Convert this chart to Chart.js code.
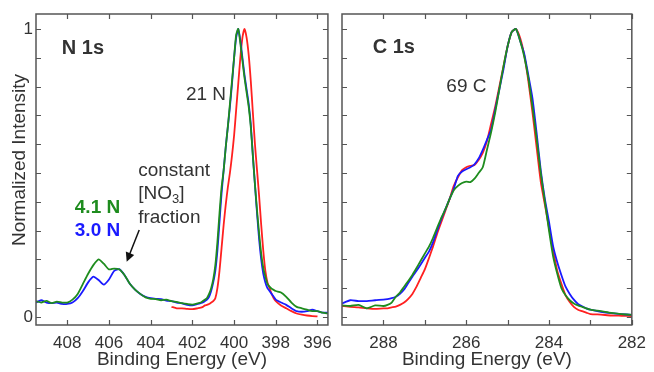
<!DOCTYPE html>
<html>
<head>
<meta charset="utf-8">
<script src="https://cdn.jsdelivr.net/npm/chart.js@4.4.1/dist/chart.umd.min.js"></script>
<style>
  html, body { margin: 0; padding: 0; background: #fff; }
  #wrap { position: relative; width: 654px; height: 372px; overflow: hidden; }
  canvas { position: absolute; top: 0; }
  #nChart { left: 0; }
  #cChart { left: 330px; }
</style>
</head>
<body>
<div id="wrap">
  <canvas id="nChart" width="340" height="372"></canvas>
  <canvas id="cChart" width="324" height="372"></canvas>
</div>
<script>
// ---- N 1s data (binding energy, eV) ----
const nEnergy = [
  409.5, 409.25, 409.0, 408.75, 408.5, 408.25, 408.0, 407.75, 407.5, 407.25, 407.0, 406.75, 406.5, 406.25, 406.0, 405.75,
  405.5, 405.25, 405.0, 404.75, 404.5, 404.25, 404.0, 403.75, 403.5, 403.25, 403.0, 402.75, 402.5, 402.25, 402.0, 401.75,
  401.6, 401.5, 401.4, 401.3, 401.2, 401.1, 401.0, 400.9, 400.8, 400.7, 400.6, 400.5, 400.4, 400.3, 400.2, 400.1, 400.0,
  399.9, 399.8, 399.7, 399.6, 399.5, 399.4, 399.3, 399.2, 399.1, 399.0, 398.9, 398.8, 398.7, 398.6, 398.5, 398.4, 398.3,
  398.2, 398.1, 398.0, 397.75, 397.5, 397.25, 397.0, 396.75, 396.5, 396.25, 396.0, 395.75, 395.5
];
const nGreen = [
  0.055, 0.05, 0.056, 0.048, 0.053, 0.05, 0.05, 0.06, 0.08, 0.115, 0.15, 0.18, 0.2, 0.185, 0.165, 0.168,
  0.165, 0.145, 0.115, 0.095, 0.08, 0.068, 0.063, 0.062, 0.058, 0.06, 0.055, 0.052, 0.048, 0.045, 0.043, 0.047,
  0.05, 0.055, 0.06, 0.066, 0.08, 0.1, 0.13, 0.18, 0.26, 0.36, 0.45, 0.51, 0.59, 0.66, 0.74, 0.82, 0.9,
  0.98, 1.0, 0.95, 0.89, 0.83, 0.78, 0.73, 0.66, 0.56, 0.46, 0.37, 0.29, 0.22, 0.17, 0.14, 0.115, 0.105,
  0.098, 0.094, 0.09, 0.085, 0.07, 0.05, 0.035, 0.03, 0.025, 0.02, 0.02, 0.015, 0.012
];
const nBlue = [
  0.05, 0.058, 0.05, 0.048, 0.05, 0.045, 0.045, 0.05, 0.065, 0.09, 0.12, 0.14, 0.128, 0.112, 0.13, 0.16,
  0.166, 0.145, 0.115, 0.095, 0.08, 0.07, 0.065, 0.063, 0.062, 0.057, 0.055, 0.05, 0.047, 0.042, 0.04, 0.045,
  0.048, 0.05, 0.055, 0.06, 0.07, 0.09, 0.12, 0.16, 0.23, 0.33, 0.43, 0.51, 0.59, 0.66, 0.73, 0.81, 0.9,
  0.97, 1.0, 0.96, 0.9, 0.84, 0.79, 0.74, 0.67, 0.56, 0.46, 0.36, 0.27, 0.2, 0.15, 0.12, 0.1, 0.09,
  0.08, 0.07, 0.06, 0.05, 0.042, 0.03, 0.02, 0.018, 0.02, 0.025, 0.02, 0.015, 0.015
];
const nRed = [
  null, null, null, null, null, null, null, null, null, null, null, null, null, null, null, null,
  null, null, null, null, null, null, null, null, null, null, 0.035, 0.03, 0.03, 0.028, 0.027, 0.03,
  0.032, 0.035, 0.04, 0.042, 0.045, 0.05, 0.055, 0.065, 0.1, 0.16, 0.24, 0.32, 0.39, 0.45, 0.5, 0.56, 0.63,
  0.72, 0.81, 0.9, 0.97, 1.0, 0.97, 0.91, 0.82, 0.71, 0.6, 0.51, 0.42, 0.32, 0.23, 0.16, 0.12, 0.1,
  0.08, 0.065, 0.055, 0.04, 0.03, 0.02, 0.012, 0.008, 0.005, 0.003, 0.002, null, null
];

// ---- C 1s data ----
const cEnergy = [
  289.0, 288.8, 288.6, 288.4, 288.2, 288.0, 287.9, 287.8, 287.7, 287.6, 287.5, 287.4, 287.3, 287.2, 287.1, 287.0,
  286.9, 286.8, 286.7, 286.6, 286.5, 286.4, 286.3, 286.2, 286.1, 286.0, 285.9, 285.8, 285.7, 285.6, 285.5, 285.4,
  285.3, 285.2, 285.1, 285.0, 284.9, 284.8, 284.7, 284.6, 284.5, 284.4, 284.3, 284.2, 284.1, 284.0, 283.9, 283.8,
  283.7, 283.6, 283.5, 283.4, 283.3, 283.2, 283.1, 283.0, 282.75, 282.5, 282.25, 282.0
];
const cGreen = [
  0.04, 0.038, 0.042, 0.03, 0.04, 0.038, 0.042, 0.05, 0.07, 0.085, 0.105, 0.125, 0.146, 0.17, 0.195, 0.22,
  0.244, 0.275, 0.31, 0.345, 0.375, 0.41, 0.44, 0.455, 0.465, 0.47, 0.468, 0.48, 0.5, 0.52, 0.58, 0.64,
  0.71, 0.79, 0.87, 0.94, 0.99, 1.0, 0.96, 0.905, 0.83, 0.73, 0.62, 0.5, 0.4, 0.3, 0.21, 0.15,
  0.1, 0.075, 0.058, 0.047, 0.04, 0.035, 0.03, 0.025, 0.02, 0.014, 0.01, 0.007
];
const cBlue = [
  0.047, 0.058, 0.055, 0.055, 0.058, 0.06, 0.062, 0.065, 0.07, 0.08, 0.095, 0.118, 0.14, 0.16, 0.182, 0.205,
  0.227, 0.26, 0.3, 0.34, 0.375, 0.41, 0.445, 0.49, 0.505, 0.513, 0.52, 0.53, 0.55, 0.58, 0.615, 0.65,
  0.72, 0.79, 0.86, 0.94, 0.99, 1.0, 0.96, 0.915, 0.84, 0.76, 0.64, 0.51, 0.41, 0.33, 0.245, 0.19,
  0.145, 0.105, 0.08, 0.06, 0.045, 0.037, 0.03, 0.025, 0.018, 0.013, 0.01, 0.007
];
const cRed = [
  0.038, 0.035, 0.033, 0.03, 0.028, 0.03, 0.03, 0.033, 0.036, 0.042, 0.05, 0.063, 0.08, 0.105, 0.135, 0.165,
  0.204, 0.245, 0.29, 0.33, 0.37, 0.41, 0.455, 0.485, 0.51, 0.52, 0.525, 0.528, 0.545, 0.57, 0.61, 0.67,
  0.73, 0.8, 0.87, 0.94, 0.99, 1.0, 0.97, 0.91, 0.82, 0.71, 0.59, 0.47, 0.39, 0.31, 0.23, 0.16,
  0.115, 0.075, 0.052, 0.035, 0.025, 0.02, 0.015, 0.01, 0.008, 0.005, 0.004, 0.003
];

// ---- tick labels ----
const nTicks = [408, 406, 404, 402, 400, 398, 396];
const cTicks = [288, 287, 286, 285, 284, 283, 282];
const yTicks = [0, 0.1, 0.2, 0.3, 0.4, 0.5, 0.6, 0.7, 0.8, 0.9, 1];

const GREEN = '#1e8c1e';
const BLUE = '#1a1aff';
const RED = '#ff2020';
const TEXT = '#333';
const FONT = '"Liberation Sans", Arial, sans-serif';

const pts = (xs, ys) => xs.map((x, i) => ({ x: x, y: ys[i] }));

function series(label, xs, ys, color) {
  return {
    label: label,
    data: pts(xs, ys),
    borderColor: color,
    borderWidth: 1.8,
    pointRadius: 0,
    tension: 0.2,
    fill: false,
    spanGaps: false
  };
}

// frame, inner tick marks and text labels
const framePlugin = {
  id: 'frame',
  afterDraw(chart, args, opts) {
    const { ctx, chartArea: a, scales: { x, y } } = chart;
    ctx.save();
    ctx.strokeStyle = '#555';
    ctx.lineWidth = 1.5;
    ctx.strokeRect(a.left, a.top, a.width, a.height);
    ctx.lineWidth = 1.2;
    ctx.beginPath();
    x.ticks.forEach(t => {
      const px = Math.round(x.getPixelForValue(t.value)) + 0.5;
      ctx.moveTo(px, a.bottom); ctx.lineTo(px, a.bottom - 5);
      ctx.moveTo(px, a.top); ctx.lineTo(px, a.top + 5);
    });
    y.ticks.forEach(t => {
      const py = Math.round(y.getPixelForValue(t.value)) + 0.5;
      ctx.moveTo(a.left, py); ctx.lineTo(a.left + 5, py);
      ctx.moveTo(a.right, py); ctx.lineTo(a.right - 5, py);
    });
    ctx.stroke();

    if (opts.yTitle) {
      ctx.save();
      ctx.translate(20, 160);
      ctx.rotate(-Math.PI / 2);
      ctx.font = '19px ' + FONT;
      ctx.fillStyle = TEXT;
      ctx.textAlign = 'center';
      ctx.textBaseline = 'middle';
      ctx.fillText(opts.yTitle, 0, 0);
      ctx.restore();
    }

    (opts.labels || []).forEach(l => {
      const px = x.getPixelForValue(l.e);
      const py = y.getPixelForValue(l.v);
      const size = l.size || 19;
      ctx.fillStyle = l.color || TEXT;
      ctx.textAlign = 'left';
      ctx.textBaseline = 'alphabetic';
      ctx.font = (l.bold ? 'bold ' : '') + size + 'px ' + FONT;
      if (l.sub) {
        let cx = px;
        ctx.fillText(l.text, cx, py);
        cx += ctx.measureText(l.text).width;
        ctx.font = '13px ' + FONT;
        ctx.fillText(l.sub, cx, py + 4);
        cx += ctx.measureText(l.sub).width;
        ctx.font = size + 'px ' + FONT;
        ctx.fillText(l.after, cx, py);
      } else {
        ctx.fillText(l.text, px, py);
      }
    });

    if (opts.arrow) {
      const r = opts.arrow;
      const x1 = x.getPixelForValue(r.from[0]), y1 = y.getPixelForValue(r.from[1]);
      const x2 = x.getPixelForValue(r.to[0]), y2 = y.getPixelForValue(r.to[1]);
      const ang = Math.atan2(y2 - y1, x2 - x1);
      ctx.strokeStyle = '#111';
      ctx.fillStyle = '#111';
      ctx.lineWidth = 1.5;
      ctx.beginPath();
      ctx.moveTo(x1, y1);
      ctx.lineTo(x2 - 6 * Math.cos(ang), y2 - 6 * Math.sin(ang));
      ctx.stroke();
      ctx.beginPath();
      ctx.moveTo(x2, y2);
      ctx.lineTo(x2 - 9 * Math.cos(ang) + 4.5 * Math.sin(ang), y2 - 9 * Math.sin(ang) - 4.5 * Math.cos(ang));
      ctx.lineTo(x2 - 9 * Math.cos(ang) - 4.5 * Math.sin(ang), y2 - 9 * Math.sin(ang) + 4.5 * Math.cos(ang));
      ctx.closePath();
      ctx.fill();
    }
    ctx.restore();
  }
};

function makeOptions(xMin, xMax, xTicks, evenOnly, showY, padding, frameOpts) {
  return {
    responsive: false,
    animation: false,
    devicePixelRatio: 1,
    layout: { padding: padding },
    plugins: {
      legend: { display: false },
      tooltip: { enabled: false },
      frame: frameOpts
    },
    scales: {
      x: {
        type: 'linear',
        reverse: true,
        min: xMin,
        max: xMax,
        afterBuildTicks: s => { s.ticks = xTicks.map(v => ({ value: v })); },
        afterFit: s => { s.height = 47; },
        grid: { display: false, drawTicks: false },
        border: { display: false },
        ticks: {
          autoSkip: false,
          maxRotation: 0,
          padding: 8,
          color: TEXT,
          font: { family: FONT, size: 17 },
          callback: v => (!evenOnly || v % 2 === 0) ? String(v) : ''
        },
        title: {
          display: true,
          text: 'Binding Energy (eV)',
          color: TEXT,
          font: { family: FONT, size: 19 },
          padding: { top: 0, bottom: 1 }
        }
      },
      y: {
        min: -0.028,
        max: 1.052,
        afterBuildTicks: s => { s.ticks = yTicks.map(v => ({ value: v })); },
        afterFit: s => { s.width = showY ? 36 : 0; },
        grid: { display: false, drawTicks: false },
        border: { display: false },
        ticks: {
          display: showY,
          padding: 3,
          color: TEXT,
          font: { family: FONT, size: 17 },
          callback: v => (v === 0 || v === 1) ? String(v) : ''
        }
      }
    }
  };
}

new Chart(document.getElementById('nChart'), {
  type: 'line',
  data: {
    datasets: [
      series('4.1 N', nEnergy, nGreen, GREEN),
      series('3.0 N', nEnergy, nBlue, BLUE),
      series('21 N', nEnergy, nRed, RED)
    ]
  },
  options: makeOptions(395.5, 409.5, nTicks, false, true,
    { left: 0, right: 9, top: 14, bottom: 0 },
    {
      yTitle: 'Normalized Intensity',
      labels: [
        { text: 'N 1s', e: 408.26, v: 0.913, bold: true, size: 20 },
        { text: '21 N', e: 402.31, v: 0.753 },
        { text: 'constant', e: 404.6, v: 0.49 },
        { text: '[NO', sub: '3', after: ']', e: 404.6, v: 0.41 },
        { text: 'fraction', e: 404.6, v: 0.326 },
        { text: '4.1 N', e: 407.64, v: 0.361, bold: true, size: 19, color: GREEN },
        { text: '3.0 N', e: 407.64, v: 0.281, bold: true, size: 19, color: BLUE }
      ],
      arrow: { from: [404.55, 0.302], to: [405.15, 0.192] }
    }),
  plugins: [framePlugin]
});

new Chart(document.getElementById('cChart'), {
  type: 'line',
  data: {
    datasets: [
      series('4.1 N', cEnergy, cGreen, GREEN),
      series('3.0 N', cEnergy, cBlue, BLUE),
      series('21 N', cEnergy, cRed, RED)
    ]
  },
  options: makeOptions(282, 289, cTicks, true, false,
    { left: 12, right: 18, top: 14, bottom: 0 },
    {
      labels: [
        { text: 'C 1s', e: 288.26, v: 0.917, bold: true, size: 20 },
        { text: '69 C', e: 286.48, v: 0.78 }
      ]
    }),
  plugins: [framePlugin]
});
</script>
</body>
</html>
